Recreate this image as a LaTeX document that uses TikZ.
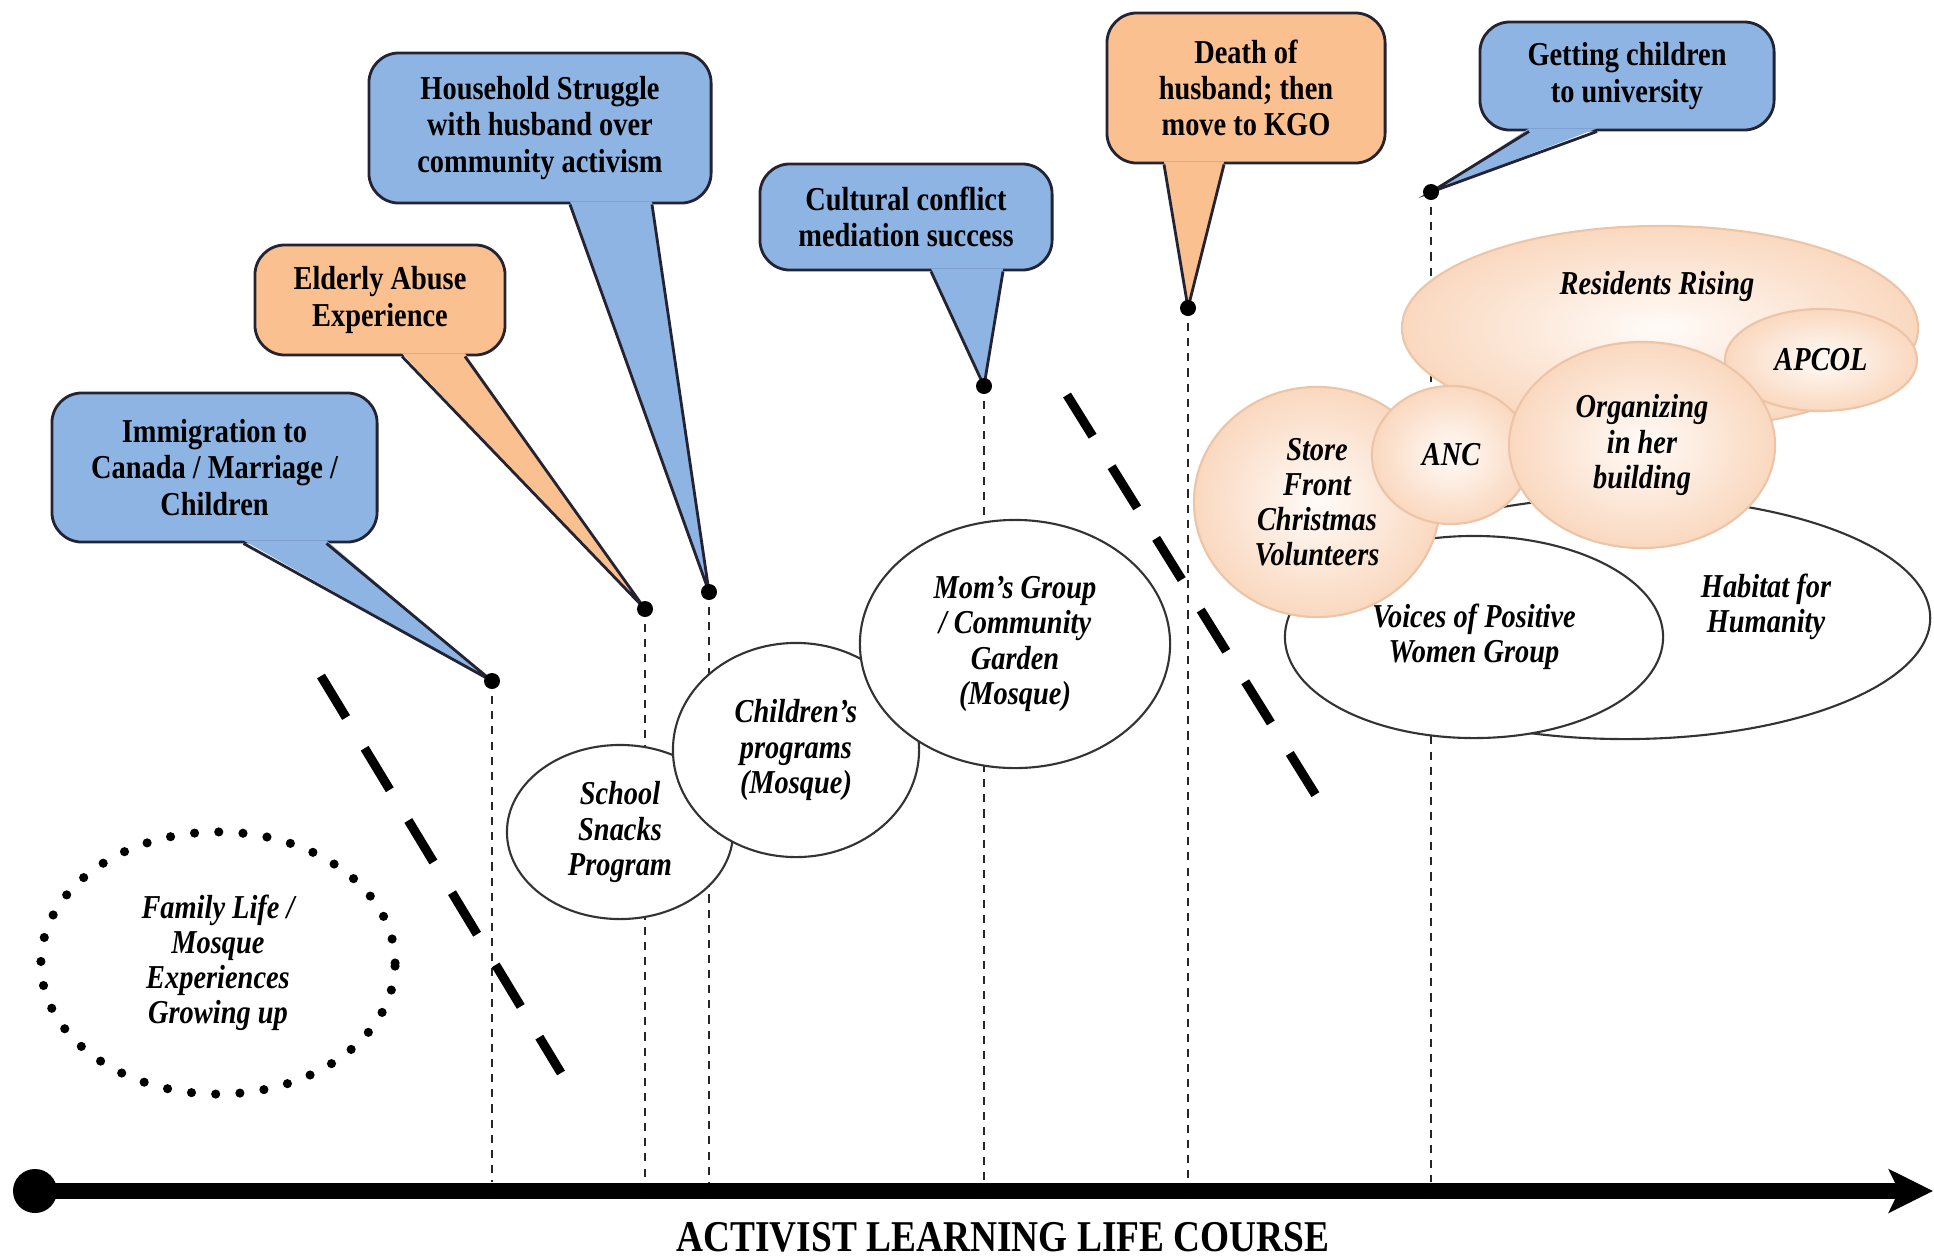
\documentclass[tikz,border=0pt]{standalone}
\usepackage{fontspec}
\setmainfont[FakeStretch=0.85]{Liberation Serif}
\usetikzlibrary{shapes.geometric,arrows.meta,calc}
\definecolor{noteblue}{RGB}{142,180,227}
\definecolor{noteorange}{RGB}{250,192,144}
\definecolor{noteline}{RGB}{35,35,50}
\definecolor{peachin}{RGB}{255,251,248}
\definecolor{peachout}{RGB}{250,216,191}
\definecolor{peachline}{RGB}{236,196,168}
\begin{document}
\begin{tikzpicture}[x=0.01cm, y=-0.01cm,
    note/.style={draw=noteline, line width=0.8pt, rounded corners=0.3cm, align=center, inner sep=0pt,
      font=\fontsize{9.5}{10.3}\selectfont\bfseries},
    wedge/.style={draw=noteline, line width=0.8pt, line join=miter},
    bubble/.style={ellipse, draw=black!80, line width=0.6pt, fill=white, align=center, inner sep=0pt,
      font=\fontsize{9.5}{10}\selectfont\bfseries\itshape},
    glow/.style={bubble, draw=peachline, shading=radial, inner color=peachin, outer color=peachout},
    bubbletext/.style={align=center, inner sep=0pt, font=\fontsize{9.5}{10}\selectfont\bfseries\itshape},
    tickdot/.style={circle, fill=black, inner sep=0pt, minimum size=0.16cm},
    stemline/.style={draw=black!85, line width=0.6pt, dash pattern=on 2.3pt off 2pt},
    breakline/.style={line width=2.6pt, dash pattern=on 13.8pt off 10.2pt}]
  \useasboundingbox (0,0) rectangle (1934,1257);

  % time axis
  \node[tickdot, minimum size=0.44cm] (origin) at (35,1191) {};
  \coordinate (finish) at (1933,1191);
  \draw[line width=4.3pt, -{Stealth[length=0.44cm, width=0.43cm, inset=0.1cm]}] (origin.center) -- (finish);
  \node[font=\fontsize{12.5}{14}\selectfont\bfseries] (title) at (1003,1237) {ACTIVIST LEARNING LIFE COURSE};

  \node[tickdot] (t1) at (492,1191) {};
  \node[tickdot] (t2) at (645,1191) {};
  \node[tickdot] (t3) at (709,1191) {};
  \node[tickdot] (t4) at (984,1191) {};
  \node[tickdot] (t5) at (1188,1191) {};
  \node[tickdot] (t6) at (1431,1191) {};

  \coordinate (d1) at (492,681);
  \coordinate (d2) at (645,609);
  \coordinate (d3) at (709,592);
  \coordinate (d4) at (984,386);
  \coordinate (d5) at (1188,308);
  \coordinate (d6) at (1431,192);

  \draw[stemline] (d1) -- (t1);
  \draw[stemline] (d2) -- (t2);
  \draw[stemline] (d3) -- (t3);
  \draw[stemline] (d4) -- (t4);
  \draw[stemline] (d5) -- (t5);
  \draw[stemline] (d6) -- (t6);

  % breaks between periods
  \draw[breakline] (321,676) -- (561,1073);
  \draw[breakline] (1067,395) -- (1320,802);

  % activities
  \node[bubble, draw=black, line width=2.6pt, line cap=round, dash pattern=on 0pt off 6.9pt,
    minimum width=3.54cm, minimum height=2.62cm] (family) at (218,963)
    {Family Life /\\Mosque\\Experiences\\Growing up};
  \node[bubble, minimum width=2.26cm, minimum height=1.74cm] (snacks) at (620,832) {School\\Snacks\\Program};
  \node[bubble, minimum width=2.46cm, minimum height=2.14cm] (kids) at (796,750) {Children's\\programs\\(Mosque)};
  \node[bubble, minimum width=3.10cm, minimum height=2.48cm] (moms) at (1015,644)
    {Mom's Group\\/ Community\\Garden\\(Mosque)};

  \node[bubble, minimum width=6.10cm, minimum height=2.42cm] (habitat) at (1625,618) {};
  \node[bubbletext] (habitattext) at (1766,607) {Habitat for\\Humanity};
  \node[bubble, minimum width=3.78cm, minimum height=2.02cm] (voices) at (1474,637) {Voices of Positive\\Women Group};
  \node[glow, minimum width=5.16cm, minimum height=2.04cm] (residents) at (1660,328) {};
  \node[bubbletext] (residentstext) at (1657,286) {Residents Rising};
  \node[glow, minimum width=1.92cm, minimum height=1.02cm] (apcol) at (1821,360) {APCOL};
  \node[glow, minimum width=2.46cm, minimum height=2.30cm] (store) at (1317,502)
    {Store\\Front\\Christmas\\Volunteers};
  \node[glow, minimum width=1.58cm, minimum height=1.38cm] (anc) at (1451,455) {ANC};
  \node[glow, minimum width=2.66cm, minimum height=2.06cm] (building) at (1642,445)
    {Organizing\\in her\\building};

  % life events
  \node[note, fill=noteblue, minimum width=3.25cm, minimum height=1.49cm] (immigration) at (214.5,467.5)
    {Immigration to\\Canada / Marriage /\\Children};
  \fill[noteblue] ($(immigration.south)+(29,-3)$) -- (d1) -- ($(immigration.south)+(112,-3)$) -- cycle;
  \draw[wedge] ($(immigration.south)+(29,0)$) -- (d1) -- ($(immigration.south)+(112,0)$);

  \node[note, fill=noteorange, minimum width=2.50cm, minimum height=1.10cm] (abuse) at (380,300)
    {Elderly Abuse\\Experience};
  \fill[noteorange] ($(abuse.south)+(22,-3)$) -- (d2) -- ($(abuse.south)+(85,-3)$) -- cycle;
  \draw[wedge] ($(abuse.south)+(22,0)$) -- (d2) -- ($(abuse.south)+(85,0)$);

  \node[note, fill=noteblue, minimum width=3.42cm, minimum height=1.50cm] (struggle) at (540,128)
    {Household Struggle\\with husband over\\community activism};
  \fill[noteblue] ($(struggle.south)+(30,-3)$) -- (d3) -- ($(struggle.south)+(112,-3)$) -- cycle;
  \draw[wedge] ($(struggle.south)+(30,0)$) -- (d3) -- ($(struggle.south)+(112,0)$);

  \node[note, fill=noteblue, minimum width=2.92cm, minimum height=1.06cm] (conflict) at (906,217)
    {Cultural conflict\\mediation success};
  \fill[noteblue] ($(conflict.south)+(25,-3)$) -- (d4) -- ($(conflict.south)+(97,-3)$) -- cycle;
  \draw[wedge] ($(conflict.south)+(25,0)$) -- (d4) -- ($(conflict.south)+(97,0)$);

  \node[note, fill=noteorange, minimum width=2.78cm, minimum height=1.50cm] (death) at (1246,88)
    {Death of\\husband; then\\move to KGO};
  \fill[noteorange] ($(death.south)+(-82,-3)$) -- (d5) -- ($(death.south)+(-22,-3)$) -- cycle;
  \draw[wedge] ($(death.south)+(-82,0)$) -- (d5) -- ($(death.south)+(-22,0)$);

  \node[note, fill=noteblue, minimum width=2.94cm, minimum height=1.08cm] (university) at (1627,76)
    {Getting children\\to university};
  \fill[noteblue] ($(university.south)+(-98,-3)$) -- (d6) -- ($(university.south)+(-30,-3)$) -- cycle;
  \draw[wedge] ($(university.south)+(-98,0)$) -- (d6) -- ($(university.south)+(-30,0)$);

  \node[tickdot] at (d1) {};
  \node[tickdot] at (d2) {};
  \node[tickdot] at (d3) {};
  \node[tickdot] at (d4) {};
  \node[tickdot] at (d5) {};
  \node[tickdot] at (d6) {};
\end{tikzpicture}
\end{document}
